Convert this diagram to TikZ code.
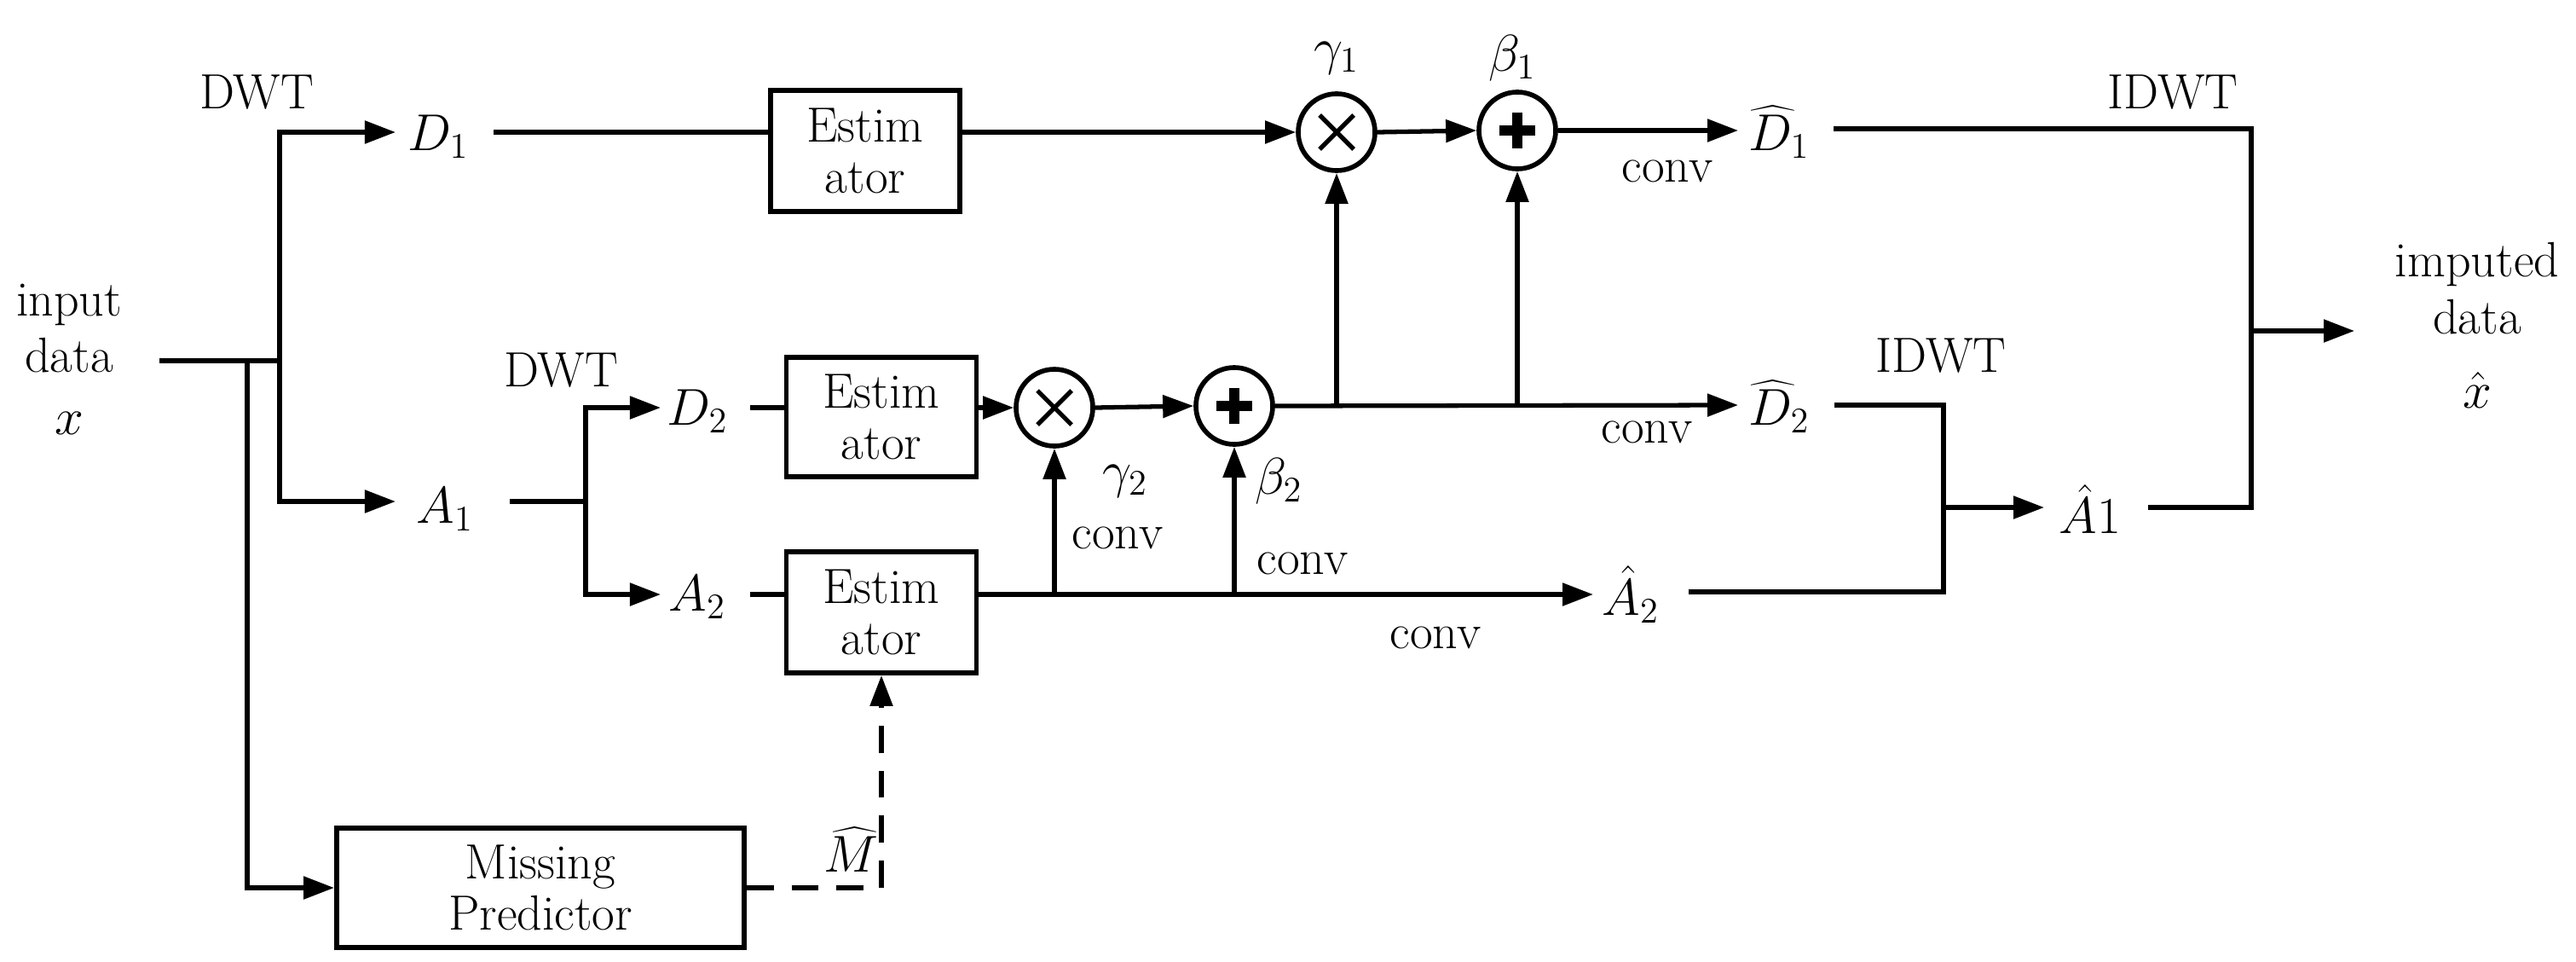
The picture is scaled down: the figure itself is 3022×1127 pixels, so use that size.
\documentclass[tikz,border=0pt]{standalone}
\usetikzlibrary{arrows.meta}
\begin{document}
\begin{tikzpicture}[x=0.01cm,y=-0.01cm,
  every node/.style={font=\fontsize{16.5}{19}\selectfont},
  ln/.style={line width=1.5pt},
  ar/.style={ln,-{Triangle[length=0.36cm,width=0.26cm]}},
  box/.style={draw,line width=1.6pt,inner sep=0pt,align=center,font=\fontsize{16.5}{17}\selectfont},
  op/.style={draw,circle,line width=1.6pt,minimum size=0.9cm,inner sep=0pt},
  lab/.style={inner sep=0.5pt}]
\useasboundingbox (0,0) rectangle (3022,1127);
% boxes
\node[box,minimum width=2.22cm,minimum height=1.42cm] (E1) at (1015,177) {Estim\\ator};
\node[box,minimum width=2.23cm,minimum height=1.40cm] (E2) at (1034,489) {Estim\\ator};
\node[box,minimum width=2.23cm,minimum height=1.42cm] (E3) at (1034,718) {Estim\\ator};
\node[box,minimum width=4.78cm,minimum height=1.40cm] (MP) at (634,1041) {Missing\\Predictor};
% operators
\node[op] (M1) at (1568,155) {};
\node[op] (P1) at (1780,153) {};
\node[op] (M2) at (1237,478) {};
\node[op] (P2) at (1448,476) {};
\foreach \n in {M1,M2}{
  \draw[line width=1.5pt] ([shift={(-20,-20)}]\n.center) -- ([shift={(20,20)}]\n.center);
  \draw[line width=1.5pt] ([shift={(-20,20)}]\n.center) -- ([shift={(20,-20)}]\n.center);}
\foreach \n in {P1,P2}{
  \draw[line width=3.4pt] ([shift={(-21,0)}]\n.center) -- ([shift={(21,0)}]\n.center);
  \draw[line width=3.4pt] ([shift={(0,-21)}]\n.center) -- ([shift={(0,21)}]\n.center);}
% labels
\node[lab,align=center] (in) at (81,385) {input\\data};
\node[lab] (x) at (81,496) {$x$};
\node[lab] (dwt1) at (301,108) {DWT};
\node[lab] (dwt2) at (658,434) {DWT};
\node[lab] (D1) at (514,160) {$D_1$};
\node[lab] (A1) at (522,597) {$A_1$};
\node[lab] (D2) at (818,482) {$D_2$};
\node[lab] (A2) at (818,700) {$A_2$};
\node[lab] (g1) at (1568,68) {$\gamma_1$};
\node[lab] (b1) at (1774,68) {$\beta_1$};
\node[lab] (g2) at (1320,564) {$\gamma_2$};
\node[lab] (b2) at (1500,564) {$\beta_2$};
\node[lab] (c1) at (1956,201) {conv};
\node[lab] (c2) at (1932,507) {conv};
\node[lab] (c3) at (1311,631) {conv};
\node[lab] (c4) at (1528,661) {conv};
\node[lab] (c5) at (1684,748) {conv};
\node[lab] (Dh1) at (2087,155) {$\widehat{D}_1$};
\node[lab] (Dh2) at (2087,477) {$\widehat{D}_2$};
\node[lab] (Ah2) at (1913,697) {$\hat{A}_2$};
\node[lab] (Ah1) at (2452,597) {$\hat{A}1$};
\node[lab] (Mh) at (998,996) {$\widehat{M}$};
\node[lab] (idwt1) at (2549,108) {IDWT};
\node[lab] (idwt2) at (2277,417) {IDWT};
\node[lab,align=center] (out) at (2906,338) {imputed\\data};
\node[lab] (xh) at (2906,457) {$\hat{x}$};
% junction coordinates
\coordinate (j0) at (290,423);
\coordinate (j1) at (328,423);
\coordinate (j2) at (687,588);
\coordinate (ja) at (1237,697);
\coordinate (jb) at (1448,697);
\coordinate (jc) at (1568,475);
\coordinate (jd) at (1780,475);
\coordinate (je) at (2280,595);
\coordinate (jf) at (2641,388);
% connectors
\draw[ln] (187,423) -- (j1);
\draw[ar] (j1) |- (464,155);
\draw[ar] (j1) |- (464,588);
\draw[ar] (j0) |- (MP.west);
\draw[ln] (579,155) -- (E1.west|-0,155);
\draw[ar] (E1.east|-0,155) -- (M1.west);
\draw[ar] (M1.east) -- (P1.west);
\draw[ar] (P1.east) -- (2039,153);
\draw[ln] (598,588) -- (j2);
\draw[ar] (j2) |- (775,478);
\draw[ar] (j2) |- (775,697);
\draw[ln] (880,478) -- (E2.west|-0,478);
\draw[ln] (880,697) -- (E3.west|-0,697);
\draw[ar] (E2.east|-0,478) -- (M2.west);
\draw[ar] (M2.east) -- (P2.west);
\draw[ar] (E3.east|-0,697) -- (1869,697);
\draw[ar] (ja) -- (M2.south);
\draw[ar] (jb) -- (P2.south);
\draw[ar] (P2.east) -- (2039,475);
\draw[ar] (jc) -- (M1.south);
\draw[ar] (jd) -- (P1.south);
\draw[ar,dash pattern=on 9pt off 6pt] (MP.east) -| (E3.south);
\draw[ln] (2152,475) -| (2280,694) -- (1981,694);
\draw[ar] (je) -- (2398,595);
\draw[ln] (2151,151) -| (2641,595) -- (2520,595);
\draw[ar] (jf) -- (2762,388);
\end{tikzpicture}
\end{document}
